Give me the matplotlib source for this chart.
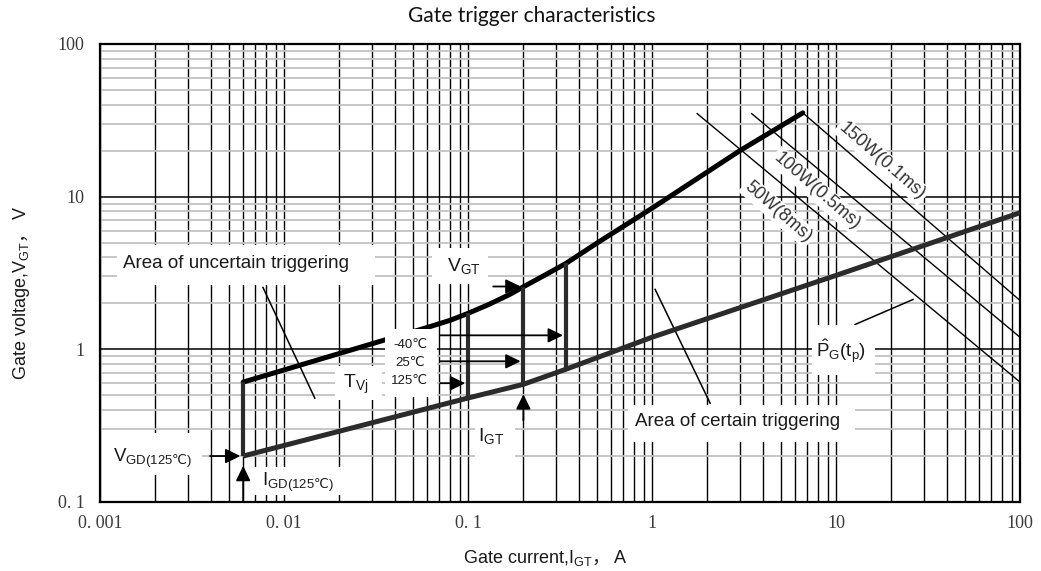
import numpy as np
import matplotlib
matplotlib.use("Agg")
import matplotlib.pyplot as plt
from matplotlib.ticker import LogLocator, FixedLocator, NullFormatter, FixedFormatter
from matplotlib.patches import Rectangle

plt.rcParams['mathtext.fontset'] = 'custom'
plt.rcParams['mathtext.rm'] = 'Liberation Sans'
plt.rcParams['mathtext.it'] = 'Liberation Sans:italic'
plt.rcParams['mathtext.bf'] = 'Liberation Sans:bold'
plt.rcParams['mathtext.sf'] = 'DejaVu Sans'
plt.rcParams['mathtext.fallback'] = 'stixsans'
plt.rcParams['font.family'] = ['Liberation Sans', 'DejaVu Sans']

# ---------------- data ----------------
# upper boundary V_GT (max gate trigger voltage) vs I_GT
current_upper = [0.006, 0.036, 0.06, 0.08, 0.1, 0.13, 0.17, 0.2, 0.26, 0.34, 0.52, 1.0, 3.0, 6.6]
voltage_upper = [0.61, 1.16, 1.39, 1.55, 1.72, 1.97, 2.3, 2.57, 3.05, 3.65, 5.1, 8.4, 20.0, 35.4]
# lower boundary
current_lower = [0.006, 0.1, 0.2, 0.34, 1.0, 10.0, 100.0]
voltage_lower = [0.20, 0.48, 0.59, 0.74, 1.2, 3.05, 7.85]
# vertical bars (temperature dependent I_GT)
bar_current = [0.006, 0.1, 0.2, 0.34]
bar_v_low = [0.20, 0.48, 0.59, 0.74]
bar_v_high = [0.61, 1.72, 2.57, 3.65]
# peak gate power lines
power_labels = ['50W(8ms)', '100W(0.5ms)', '150W(0.1ms)']
power_i_start = [1.76, 3.48, 6.6]
power_v_start = [35.0, 35.0, 35.4]
power_i_end = [100.0, 100.0, 100.0]
power_v_end = [0.61, 1.2, 2.09]
temp_labels = ['-40℃', '25℃', '125℃']

x_ticks = [0.001, 0.01, 0.1, 1, 10, 100]
x_tick_labels = ['0. 001', '0. 01', '0. 1', '1', '10', '100']
y_ticks = [0.1, 1, 10, 100]
y_tick_labels = ['0. 1', '1', '10', '100']

# ---------------- figure ----------------
W, H = 1041, 571
fig = plt.figure(figsize=(W / 100, H / 100), dpi=100)
AX_L, AX_R, AX_T, AX_B = 100, 1020, 44, 502
ax = fig.add_axes([AX_L / W, 1 - AX_B / H, (AX_R - AX_L) / W, (AX_B - AX_T) / H])
ax.set_xscale('log')
ax.set_yscale('log')
ax.set_xlim(0.001, 100)
ax.set_ylim(0.1, 100)

def afr(px, py):
    return ((px - AX_L) / (AX_R - AX_L), (AX_B - py) / (AX_B - AX_T))

# grid
ax.xaxis.set_major_locator(FixedLocator(x_ticks))
ax.xaxis.set_major_formatter(FixedFormatter(x_tick_labels))
ax.xaxis.set_minor_locator(LogLocator(base=10, subs=np.arange(2, 10)))
ax.xaxis.set_minor_formatter(NullFormatter())
ax.yaxis.set_major_locator(FixedLocator(y_ticks))
ax.yaxis.set_major_formatter(FixedFormatter(y_tick_labels))
ax.yaxis.set_minor_locator(LogLocator(base=10, subs=np.arange(2, 10)))
ax.yaxis.set_minor_formatter(NullFormatter())
ax.grid(True, which='both', axis='x', color='black', lw=1.0, zorder=0)
ax.grid(True, which='minor', axis='y', color='#c2c2c2', lw=1.3, zorder=0)
ax.grid(True, which='major', axis='y', color='black', lw=1.1, zorder=0)
ax.set_axisbelow(True)
ax.tick_params(which='both', length=0)
ax.tick_params(axis='x', pad=9)
ax.tick_params(axis='y', pad=11)
for lab in ax.get_xticklabels() + ax.get_yticklabels():
    lab.set_fontfamily('Liberation Serif')
    lab.set_fontsize(13)
    lab.set_color('#3a3a3a')
for sp in ax.spines.values():
    sp.set_linewidth(1.6)
    sp.set_color('black')

# power lines
for i0, v0, i1, v1 in zip(power_i_start, power_v_start, power_i_end, power_v_end):
    ax.plot([i0, i1], [v0, v1], color='black', lw=1.0, zorder=2)

# curves
ax.plot(current_lower, voltage_lower, color='#2b2b2b', lw=3.6, zorder=3,
        solid_capstyle='butt', solid_joinstyle='round')
ax.plot(current_upper, voltage_upper, color='black', lw=3.6, zorder=3,
        solid_capstyle='round', solid_joinstyle='round')
ax.vlines(bar_current, bar_v_low, bar_v_high, color='#2b2b2b', lw=3.0, zorder=3)

# leader lines
leaders = [((0.00769, 2.54), (0.0147, 0.479)),
           ((1.04, 2.47), (2.07, 0.444)),
           ((12.7, 1.455), (26.2, 2.12))]
for (xa, ya), (xb, yb) in leaders:
    ax.plot([xa, xb], [ya, yb], color='black', lw=1.1, zorder=2)

# white boxes behind labels (reference pixel extents)
boxes = [(117, 245, 375, 285), (628, 405, 855, 442), (432, 248, 488, 284),
         (385, 329, 437, 397), (335, 366, 382, 400), (475, 412, 515, 457),
         (102, 433, 202, 475), (252, 467, 345, 495), (812, 325, 875, 375)]
for x0, y0, x1, y1 in boxes:
    fx0, fy1 = afr(x0, y1)
    fx1, fy0 = afr(x1, y0)
    ax.add_patch(Rectangle((fx0, fy1), fx1 - fx0, fy0 - fy1, transform=ax.transAxes,
                           facecolor='white', edgecolor='none', zorder=4))

def label(px, py, s, size, **kw):
    fx, fy = afr(px, py)
    ax.text(fx, fy, s, transform=ax.transAxes, ha='center', va='center',
            fontsize=size, color='#1a1a1a', zorder=6, **kw)

label(236, 264, 'Area of uncertain triggering', 13.5)
label(738, 421, 'Area of certain triggering', 13.5)
label(464, 266, r'$\mathregular{V_{GT}}$', 14)
label(356, 384, r'$\mathregular{T_{Vj}}$', 14)
label(491, 436, r'$\mathregular{I_{GT}}$', 14)
label(152, 458, r'$\mathregular{V_{GD(125\mathsf{℃})}}$', 13.5)
label(298, 482, r'$\mathregular{I_{GD(125\mathsf{℃})}}$', 13.5)
label(841, 352, r'$\mathregular{\hat{P}_G(t_p)}$', 13.5)
for py, s in zip([345, 363, 381], temp_labels):
    label(410, py, s, 9.5)

# power labels (rotated)
for (px, py), s in zip([(778, 212), (817, 191), (882, 161)], power_labels):
    fx, fy = afr(px, py)
    ax.text(fx, fy, s, transform=ax.transAxes, ha='center', va='center',
            rotation=-41, rotation_mode='anchor', fontsize=13, color='#333333', zorder=6,
            bbox=dict(facecolor='white', edgecolor='none', pad=1.5))

# arrows
arrow_kw = dict(arrowstyle='-|>,head_length=0.45,head_width=0.22', mutation_scale=20,
                color='black', lw=1.3, shrinkA=0, shrinkB=2)
arrows = [((0.137, 2.58), (bar_current[2], 2.58)),
          ((0.0705, 1.235), (bar_current[3], 1.235)),
          ((0.0705, 0.835), (bar_current[2], 0.835)),
          ((0.0705, 0.60), (bar_current[1], 0.60)),
          ((0.2, 0.343), (0.2, 0.53)),
          ((0.00396, 0.2), (bar_current[0], 0.2)),
          ((0.006, 0.1), (0.006, 0.18))]
for tail, tip in arrows:
    ax.annotate('', xy=tip, xytext=tail, xycoords='data', textcoords='data',
                arrowprops=arrow_kw, zorder=5, annotation_clip=False)

# title
fig.text(532 / W, 1 - 16 / H, 'Gate trigger characteristics', ha='center', va='center',
         fontsize=15, family='Lato', color='#111111')

# axis labels built from pieces
cjk = ['Liberation Sans', 'Noto Sans CJK SC']
fig.canvas.draw()
r = fig.canvas.get_renderer()
t1 = fig.text(463 / W, 1 - 563 / H, r'Gate current,$\mathregular{I_{GT}}$', ha='left',
              va='baseline', fontsize=13, family='Liberation Sans', color='#1a1a1a')
bb = t1.get_window_extent(renderer=r)
fig.text(bb.x1 / W, 1 - 563 / H, '， A', ha='left', va='baseline', fontsize=13,
         family=cjk, color='#1a1a1a')
t2 = fig.text(26 / W, 1 - 380 / H, r'Gate voltage,$\mathregular{V_{GT}}$', ha='left',
              va='baseline', rotation=90, rotation_mode='anchor', fontsize=13,
              family='Liberation Sans', color='#1a1a1a')
bb2 = t2.get_window_extent(renderer=r)
fig.text(26 / W, bb2.y1 / H, '， V', ha='left', va='baseline', rotation=90,
         rotation_mode='anchor', fontsize=13, family=cjk, color='#1a1a1a')

fig.savefig('out.png', dpi=100)
